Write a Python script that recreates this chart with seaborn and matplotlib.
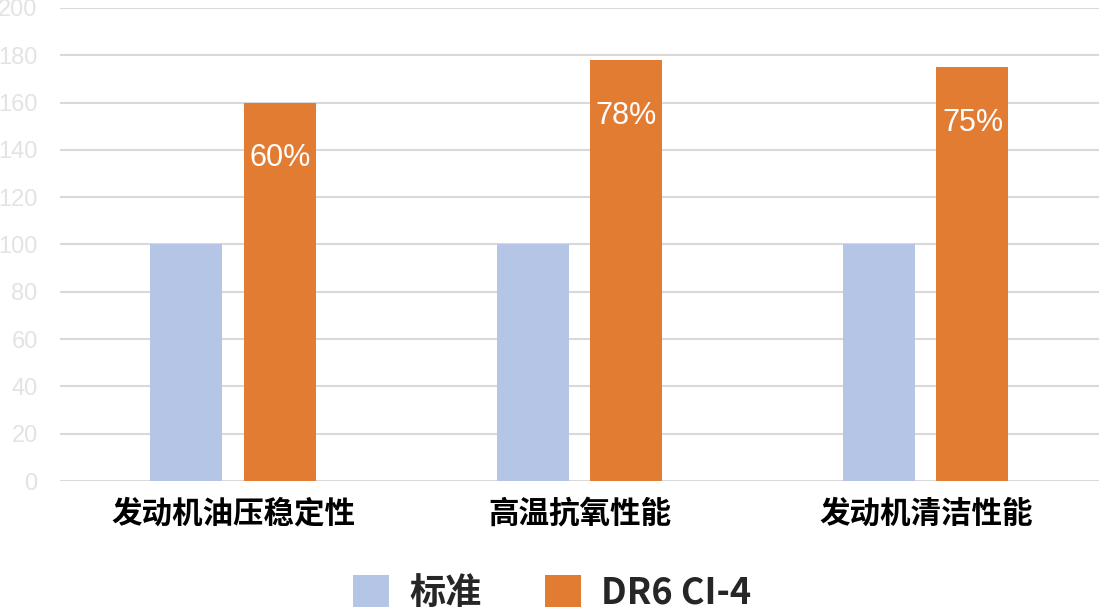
import pandas as pd
import seaborn as sns
import matplotlib.pyplot as plt

# 数据
categories = ["发动机油压稳定性", "高温抗氧性能", "发动机清洁性能"]
series_names = ["标准", "DR6 CI-4"]
standard_values = [100, 100, 100]
dr6_values = [160, 178, 175]
pct_labels = ["60%", "78%", "75%"]
y_ticks = [0, 20, 40, 60, 80, 100, 120, 140, 160, 180, 200]

df = pd.DataFrame({
    "category": categories * 2,
    "series": [series_names[0]] * 3 + [series_names[1]] * 3,
    "value": standard_values + dr6_values,
})

sns.set_theme(style="white")
plt.rcParams["font.family"] = ["Noto Sans CJK SC", "DejaVu Sans"]

fig = plt.figure(figsize=(11, 6.14), dpi=100)
ax = fig.add_axes([0.0545, 0.2166, 0.9445, 0.7704])

palette = {"标准": "#b4c5e5", "DR6 CI-4": "#e37c33"}
sns.barplot(data=df, x="category", y="value", hue="series", palette=palette,
            width=0.54, gap=0.23, saturation=1, linewidth=0, ax=ax, legend=True)

# 橙色柱内百分比标签
orange = ax.containers[1]
for bar, txt in zip(orange, pct_labels):
    ax.text(bar.get_x() + bar.get_width() / 2, bar.get_height() - 23.5, txt,
            ha="center", va="center", color="white", fontsize=22,
            family=["Liberation Sans", "DejaVu Sans"])

ax.set_ylim(0, 200)
ax.set_xlim(-0.5, 2.5)
ax.set_yticks(y_ticks)
ax.yaxis.grid(True, color="#d9d9d9", linewidth=1.5)
ax.set_axisbelow(True)
for s in ax.spines.values():
    s.set_visible(False)
ax.set_xlabel("")
ax.set_ylabel("")
ax.tick_params(axis="y", length=0, pad=16)
ax.tick_params(axis="x", length=0, pad=12)
for lab in ax.get_yticklabels():
    lab.set_family(["Liberation Sans", "DejaVu Sans"])
    lab.set_fontsize(17)
    lab.set_color("#e3e3e3")
for lab in ax.get_xticklabels():
    lab.set_fontsize(22)
    lab.set_fontweight("heavy")
    lab.set_color("black")

handles, labels = ax.get_legend_handles_labels()
ax.get_legend().remove()
fig.legend(handles, labels, loc="center", bbox_to_anchor=(552 / 1100, 1 - 593 / 614),
           ncol=2, frameon=False, handlelength=1, handleheight=1,
           handletextpad=0.55, columnspacing=1.75, prop={"weight": "bold", "size": 26})

fig.savefig("out.png", dpi=100)
